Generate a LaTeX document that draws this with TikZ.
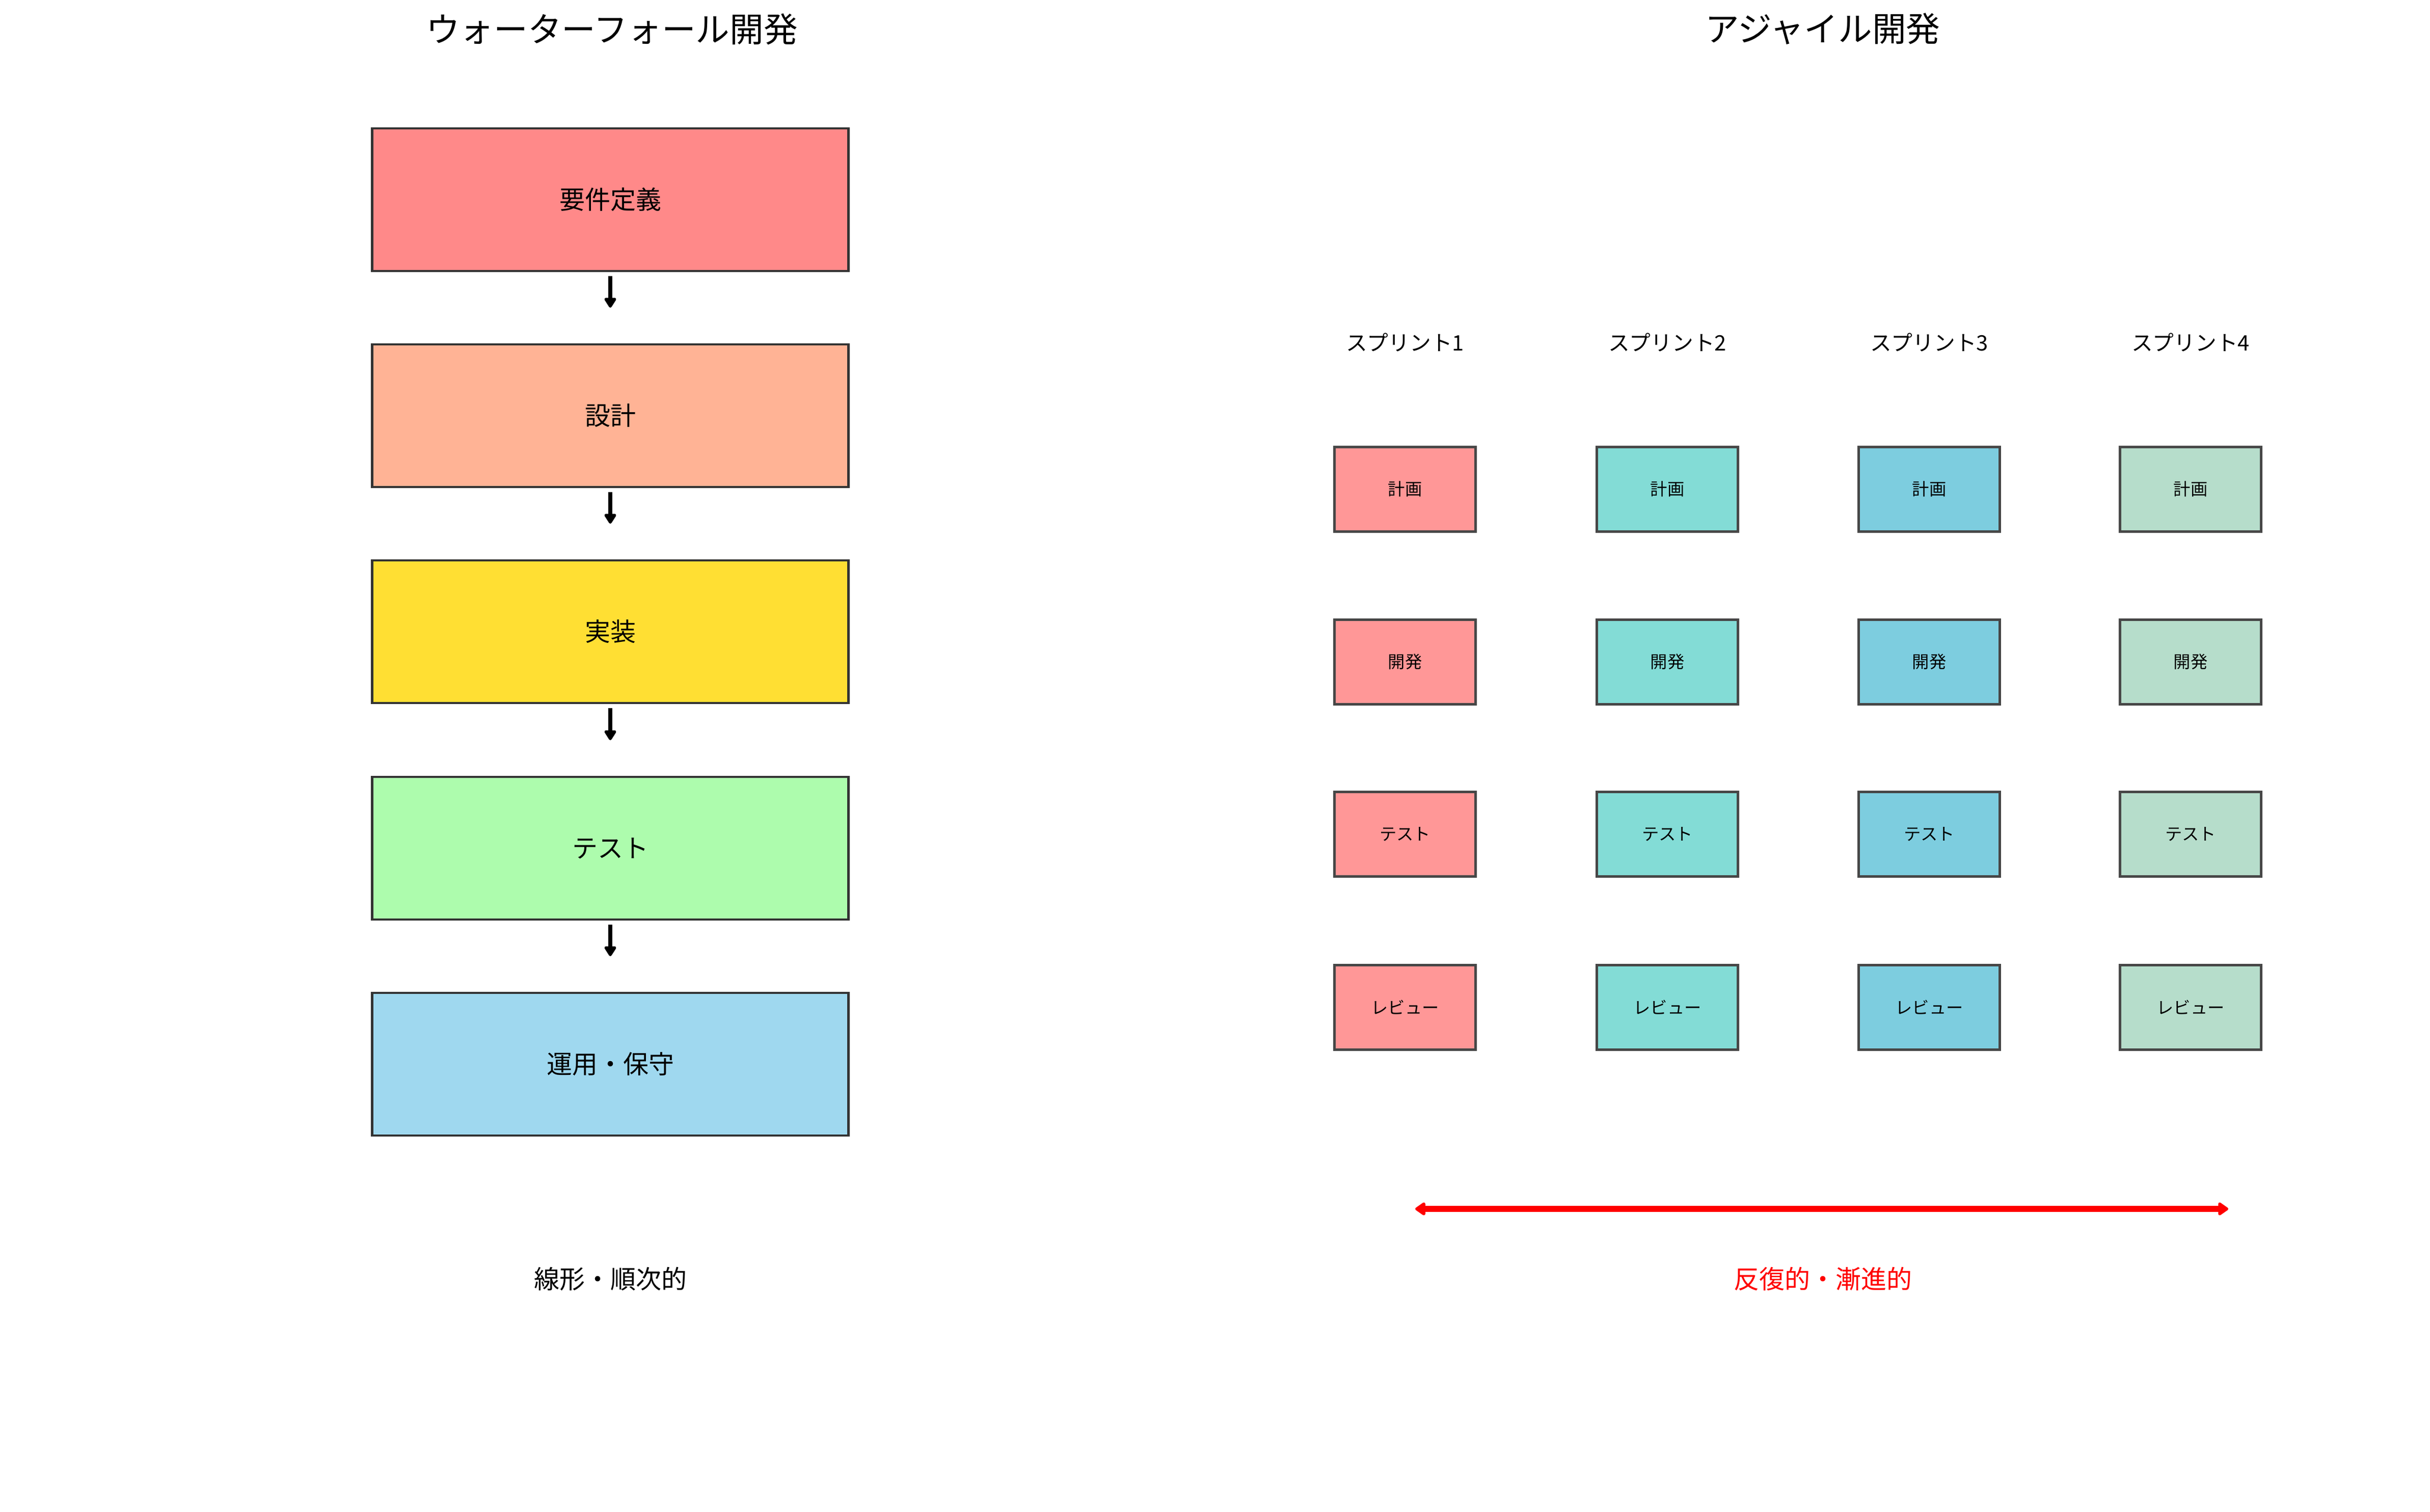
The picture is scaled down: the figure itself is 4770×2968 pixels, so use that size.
\documentclass[tikz,border=0pt]{standalone}
\usepackage{fontspec}
\setmainfont{Noto Sans CJK JP}
\usetikzlibrary{arrows.meta}
\definecolor{wfa}{HTML}{FF8989}
\definecolor{wfb}{HTML}{FFB395}
\definecolor{wfc}{HTML}{FFDF33}
\definecolor{wfd}{HTML}{ADFCAD}
\definecolor{wfe}{HTML}{9FD8EF}
\definecolor{spa}{HTML}{FF9797}
\definecolor{spb}{HTML}{83DCD6}
\definecolor{spc}{HTML}{7DCDDF}
\definecolor{spd}{HTML}{B6DDCB}
\definecolor{wfedge}{HTML}{333333}
\definecolor{spedge}{HTML}{474747}
\definecolor{iterred}{HTML}{FF0000}
\tikzset{
  titletext/.style={inner sep=0pt, font=\fontsize{66.7}{80}\selectfont},
  wfbox/.style={draw=wfedge, line width=4.2pt, minimum width=935pt, minimum height=280pt, inner sep=0pt, font=\fontsize{50}{60}\selectfont},
  spbox/.style={draw=spedge, line width=5pt, minimum width=277pt, minimum height=166pt, inner sep=0pt, font=\fontsize{33.3}{40}\selectfont},
  splabel/.style={inner sep=0pt, font=\fontsize{41.7}{50}\selectfont},
  bottomtext/.style={inner sep=0pt, font=\fontsize{50}{60}\selectfont},
  wfarrow/.style={draw=black, line width=8.3pt, -{Triangle[length=22pt,width=26pt,round]}, line join=round},
  iterarrow/.style={draw=iterred, line width=12.5pt, {Triangle[length=22pt,width=29pt,round]}-{Triangle[length=22pt,width=29pt,round]}, line join=round}
}
\begin{document}
\begin{tikzpicture}[x=1pt,y=-1pt]
\useasboundingbox (0,0) rectangle (4770,2968);
\fill[white] (0,0) rectangle (4770,2968);

% Waterfall
\node[titletext] (wftitle) at (1201,57) {ウォーターフォール開発};
\node[wfbox, fill=wfa] (w1) at (1198,392) {要件定義};
\node[wfbox, fill=wfb] (w2) at (1198,816) {設計};
\node[wfbox, fill=wfc] (w3) at (1198,1240) {実装};
\node[wfbox, fill=wfd] (w4) at (1198,1665) {テスト};
\node[wfbox, fill=wfe] (w5) at (1198,2089) {運用・保守};
\foreach \a/\b in {w1/w2,w2/w3,w3/w4,w4/w5}{
  \draw[wfarrow] ([yshift=-8pt]\a.south) -- ([yshift=70pt]\b.north);
}
\node[bottomtext] (wfnote) at (1198,2511) {線形・順次的};

% Agile
\node[titletext] (agtitle) at (3578,57) {アジャイル開発};
\foreach \i/\x/\c in {1/2758/spa,2/3273/spb,3/3787/spc,4/4300/spd}{
  \node[splabel] (s\i) at (\x,672) {スプリント\i};
  \node[spbox, fill=\c] (p\i) at (\x,960) {計画};
  \node[spbox, fill=\c] (d\i) at (\x,1299) {開発};
  \node[spbox, fill=\c] (t\i) at (\x,1637) {テスト};
  \node[spbox, fill=\c] (r\i) at (\x,1977) {レビュー};
}
\coordinate (itl) at (2778,2373);
\coordinate (itr) at (4374,2373);
\draw[iterarrow] (itl) -- (itr);
\node[bottomtext, text=iterred] (agnote) at (3578,2510) {反復的・漸進的};
\end{tikzpicture}
\end{document}
